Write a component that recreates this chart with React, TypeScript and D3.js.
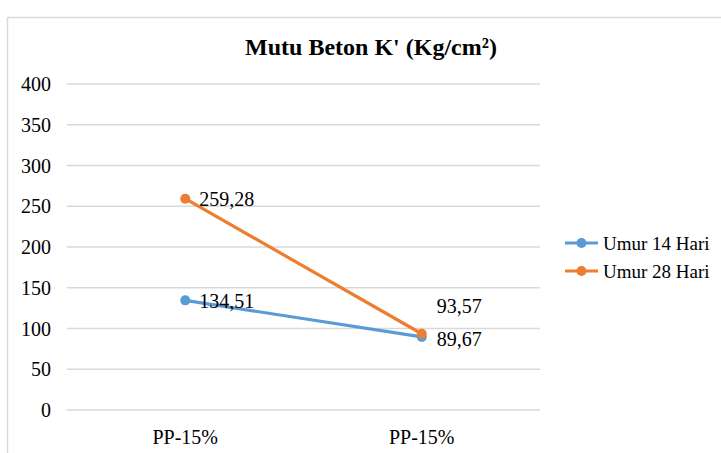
import React from 'react';
import * as d3 from 'd3';

const categories = ['PP-15%', 'PP-15% '];
const umur14 = [134.51, 89.67];
const umur28 = [259.28, 93.57];
const yTicks = [0, 50, 100, 150, 200, 250, 300, 350, 400];
const seriesNames = ['Umur 14 Hari', 'Umur 28 Hari'];
const labels14 = ['134,51', '89,67'];
const labels28 = ['259,28', '93,57'];

const W = 721;
const H = 453;
const font = 'Liberation Serif';
const colors = ['#5B9BD5', '#ED7D31'];

const App = () => {
  const x = d3.scaleBand().domain(categories).range([67, 540]);
  const y = d3.scaleLinear().domain([0, 400]).range([410, 84]);
  const cx = (c: string) => (x(c) as number) + x.bandwidth() / 2;

  const line = d3.line<number>()
    .x((_, i) => cx(categories[i]))
    .y(d => y(d));

  const series = [
    { name: seriesNames[0], values: umur14, labels: labels14, color: colors[0] },
    { name: seriesNames[1], values: umur28, labels: labels28, color: colors[1] },
  ];

  // label offsets (Excel placed them to the right, except one above)
  const labelPos = [
    [{ dx: 14, dy: 1 }, { dx: 15, dy: 2 }],
    [{ dx: 14, dy: 0 }, { dx: 15, dy: -28 }],
  ];

  return (
    <svg width={W} height={H} style={{ position: 'absolute', left: 0, top: 0 }}>
      <rect x={0} y={0} width={W} height={H} fill="#fff" />
      <rect x={7.5} y={17.5} width={W + 20} height={H + 20} fill="none" stroke="#d9d9d9" strokeWidth={1.5} />
      <text x={371} y={55} textAnchor="middle" fontFamily={font} fontWeight="bold" fontSize={24}>
        Mutu Beton K' (Kg/cm²)
      </text>
      {yTicks.map(t => (
        <g key={t}>
          <line x1={67} x2={540} y1={y(t)} y2={y(t)} stroke="#d9d9d9" strokeWidth={1.3} />
          <text x={51} y={y(t) + 7} textAnchor="end" fontFamily={font} fontSize={20}>
            {t}
          </text>
        </g>
      ))}
      {categories.map(c => (
        <text key={c} x={cx(c)} y={444} textAnchor="middle" fontFamily={font} fontSize={20}>
          {c.trim()}
        </text>
      ))}
      {series.map((s, si) => (
        <g key={s.name}>
          <path d={line(s.values) as string} fill="none" stroke={s.color} strokeWidth={3.2} strokeLinecap="round" />
          {s.values.map((v, i) => (
            <circle key={i} cx={cx(categories[i])} cy={y(v)} r={5} fill={s.color} />
          ))}
          {s.values.map((v, i) => (
            <text key={'l' + i} x={cx(categories[i]) + labelPos[si][i].dx} y={y(v) + labelPos[si][i].dy + 7}
              fontFamily={font} fontSize={20}>
              {s.labels[i]}
            </text>
          ))}
        </g>
      ))}
      {series.map((s, i) => (
        <g key={'lg' + s.name} transform={`translate(565,${243 + i * 28})`}>
          <line x1={0} x2={33} y1={0} y2={0} stroke={s.color} strokeWidth={3.2} />
          <circle cx={16.5} cy={0} r={5} fill={s.color} />
          <text x={38} y={7} fontFamily={font} fontSize={19}>
            {s.name}
          </text>
        </g>
      ))}
    </svg>
  );
};

export default App;
